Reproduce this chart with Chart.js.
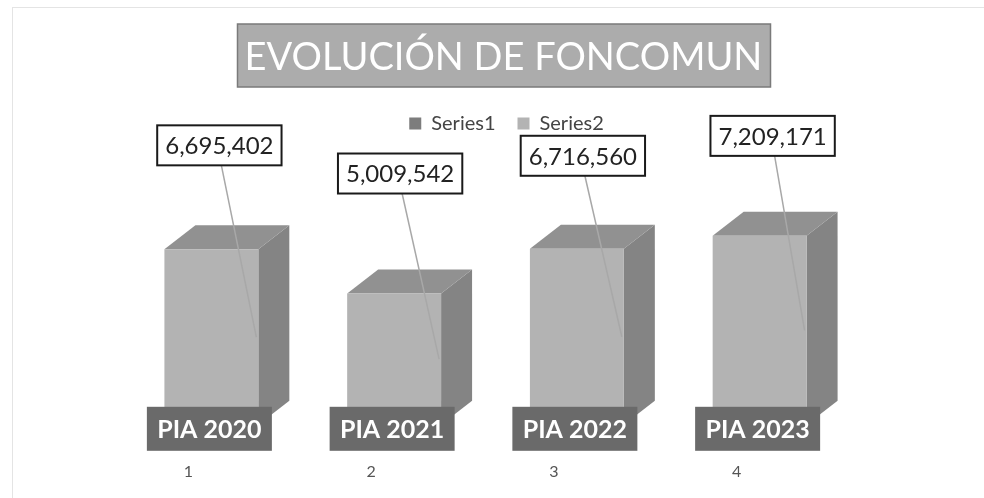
<!DOCTYPE html>
<html>
<head>
<meta charset="utf-8">
<script src="https://cdn.jsdelivr.net/npm/chart.js@4/dist/chart.umd.min.js"></script>
<style>
  html, body { margin: 0; padding: 0; background: #ffffff; }
  #wrap { position: relative; width: 984px; height: 498px; }
  canvas { display: block; }
</style>
</head>
<body>
<div id="wrap"><canvas id="c" width="984" height="498"></canvas></div>
<script>
// ---- data ----
const categories = ['1', '2', '3', '4'];
const series1 = [2020, 2021, 2022, 2023];
const series2 = [6695402, 5009542, 6716560, 7209171];
const seriesNames = ['Series1', 'Series2'];
const chartTitle = 'EVOLUCIÓN DE FONCOMUN';
const labelPrefix = 'PIA ';

// ---- styles ----
const FONT = 'Lato, "Open Sans", "DejaVu Sans", sans-serif';
const FRONT = '#b3b3b3', TOP = '#919191', SIDE = '#848484';
const DARK = '#6a6a6a';
const DEPTH_X = 31, DEPTH_Y = -24;
const valueNudge = [[8, -104], [6, -120], [6, -93], [13, -100]];

const threeD = {
  id: 'threeD',
  beforeDraw(chart) {
    const ctx = chart.ctx;
    ctx.save();
    ctx.fillStyle = '#ffffff';
    ctx.fillRect(0, 0, chart.width, chart.height);
    // faint scan frame
    ctx.strokeStyle = '#e4e4e4';
    ctx.lineWidth = 1;
    ctx.beginPath();
    ctx.moveTo(12, 7.5); ctx.lineTo(984, 7.5);
    ctx.moveTo(12.5, 7); ctx.lineTo(12.5, 498);
    ctx.stroke();
    // title box
    const t = chart.titleBlock;
    if (t) {
      const cx = (t.left + t.right) / 2;
      ctx.fillStyle = '#acacac';
      ctx.strokeStyle = '#7a7a7a';
      ctx.lineWidth = 1.5;
      ctx.fillRect(cx - 266, 24, 533, 63);
      ctx.strokeRect(cx - 266, 24, 533, 63);
    }
    ctx.restore();
  },
  afterLayout(chart) {
    if (chart.titleBlock) { chart.titleBlock.left += 18; chart.titleBlock.right += 18; }
    if (chart.legend) { chart.legend.left += 21; chart.legend.right += 21; }
  },
  beforeDatasetsDraw(chart) {
    const ctx = chart.ctx;
    const meta = chart.getDatasetMeta(1);
    ctx.save();
    meta.data.forEach((bar) => {
      const p = bar.getProps(['x', 'y', 'base', 'width'], true);
      const l = p.x - p.width / 2, r = p.x + p.width / 2;
      // side face
      ctx.fillStyle = SIDE;
      ctx.beginPath();
      ctx.moveTo(r, p.y);
      ctx.lineTo(r + DEPTH_X, p.y + DEPTH_Y);
      ctx.lineTo(r + DEPTH_X, p.base + DEPTH_Y);
      ctx.lineTo(r, p.base);
      ctx.closePath();
      ctx.fill();
      // top face
      ctx.fillStyle = TOP;
      ctx.beginPath();
      ctx.moveTo(l, p.y);
      ctx.lineTo(l + DEPTH_X, p.y + DEPTH_Y);
      ctx.lineTo(r + DEPTH_X, p.y + DEPTH_Y);
      ctx.lineTo(r, p.y);
      ctx.closePath();
      ctx.fill();
    });
    ctx.restore();
  },
  afterDatasetsDraw(chart) {
    const ctx = chart.ctx;
    const meta2 = chart.getDatasetMeta(1);
    const meta1 = chart.getDatasetMeta(0);
    ctx.save();
    // leader lines + value boxes
    ctx.font = '24px ' + FONT;
    ctx.textAlign = 'center';
    ctx.textBaseline = 'middle';
    meta2.data.forEach((bar, i) => {
      const p = bar.getProps(['x', 'y', 'base', 'width'], true);
      const txt = series2[i].toLocaleString('en-US');
      const tw = ctx.measureText(txt).width;
      const bw = tw + 16, bh = 40;
      const cx = p.x + valueNudge[i][0], cy = p.y + valueNudge[i][1];
      // leader line
      ctx.strokeStyle = '#a8a8a8';
      ctx.lineWidth = 1.5;
      ctx.beginPath();
      ctx.moveTo(cx + 2, cy + bh / 2);
      ctx.lineTo(p.x + p.width / 2 - 2, (p.y + p.base) / 2);
      ctx.stroke();
      // box
      ctx.fillStyle = '#ffffff';
      ctx.fillRect(cx - bw / 2, cy - bh / 2, bw, bh);
      ctx.strokeStyle = '#1a1a1a';
      ctx.lineWidth = 2;
      ctx.strokeRect(cx - bw / 2, cy - bh / 2, bw, bh);
      ctx.fillStyle = '#222222';
      ctx.fillText(txt, cx, cy + 1);
    });
    // PIA labels (Series1 data labels)
    ctx.font = 'bold 25px ' + FONT;
    meta1.data.forEach((bar, i) => {
      const p = bar.getProps(['x', 'base'], true);
      const cx = p.x - 2;
      ctx.fillStyle = DARK;
      ctx.fillRect(cx - 62.5, p.base - 18, 125, 44);
      ctx.fillStyle = '#ffffff';
      ctx.fillText(labelPrefix + series1[i], cx, p.base + 5);
    });
    ctx.restore();
  }
};

new Chart(document.getElementById('c'), {
  type: 'bar',
  data: {
    labels: categories,
    datasets: [
      { label: seriesNames[0], data: series1, backgroundColor: '#7d7d7d', grouped: false,
        categoryPercentage: 1, barPercentage: 0.514, order: 0 },
      { label: seriesNames[1], data: series2, backgroundColor: FRONT, grouped: false,
        categoryPercentage: 1, barPercentage: 0.514, order: 1 }
    ]
  },
  options: {
    responsive: false,
    devicePixelRatio: 1,
    animation: false,
    layout: { padding: { left: 120, right: 133, top: 12, bottom: 17 } },
    plugins: {
      title: {
        display: true, text: chartTitle, color: '#ffffff',
        font: { family: FONT, size: 38, weight: 'normal' },
        padding: { top: 23, bottom: 11 }
      },
      legend: {
        display: true, position: 'top',
        labels: { boxWidth: 12, boxHeight: 12, padding: 22, color: '#444444',
                  font: { family: FONT, size: 20 } }
      },
      tooltip: { enabled: false }
    },
    scales: {
      x: {
        grid: { display: false, drawTicks: true, tickLength: 37 }, border: { display: false },
        ticks: { color: '#555555', font: { family: FONT, size: 16 }, padding: 0, labelOffset: -23 }
      },
      y: { display: false, min: 0, max: 10730000 }
    }
  },
  plugins: [threeD]
});
</script>
</body>
</html>
